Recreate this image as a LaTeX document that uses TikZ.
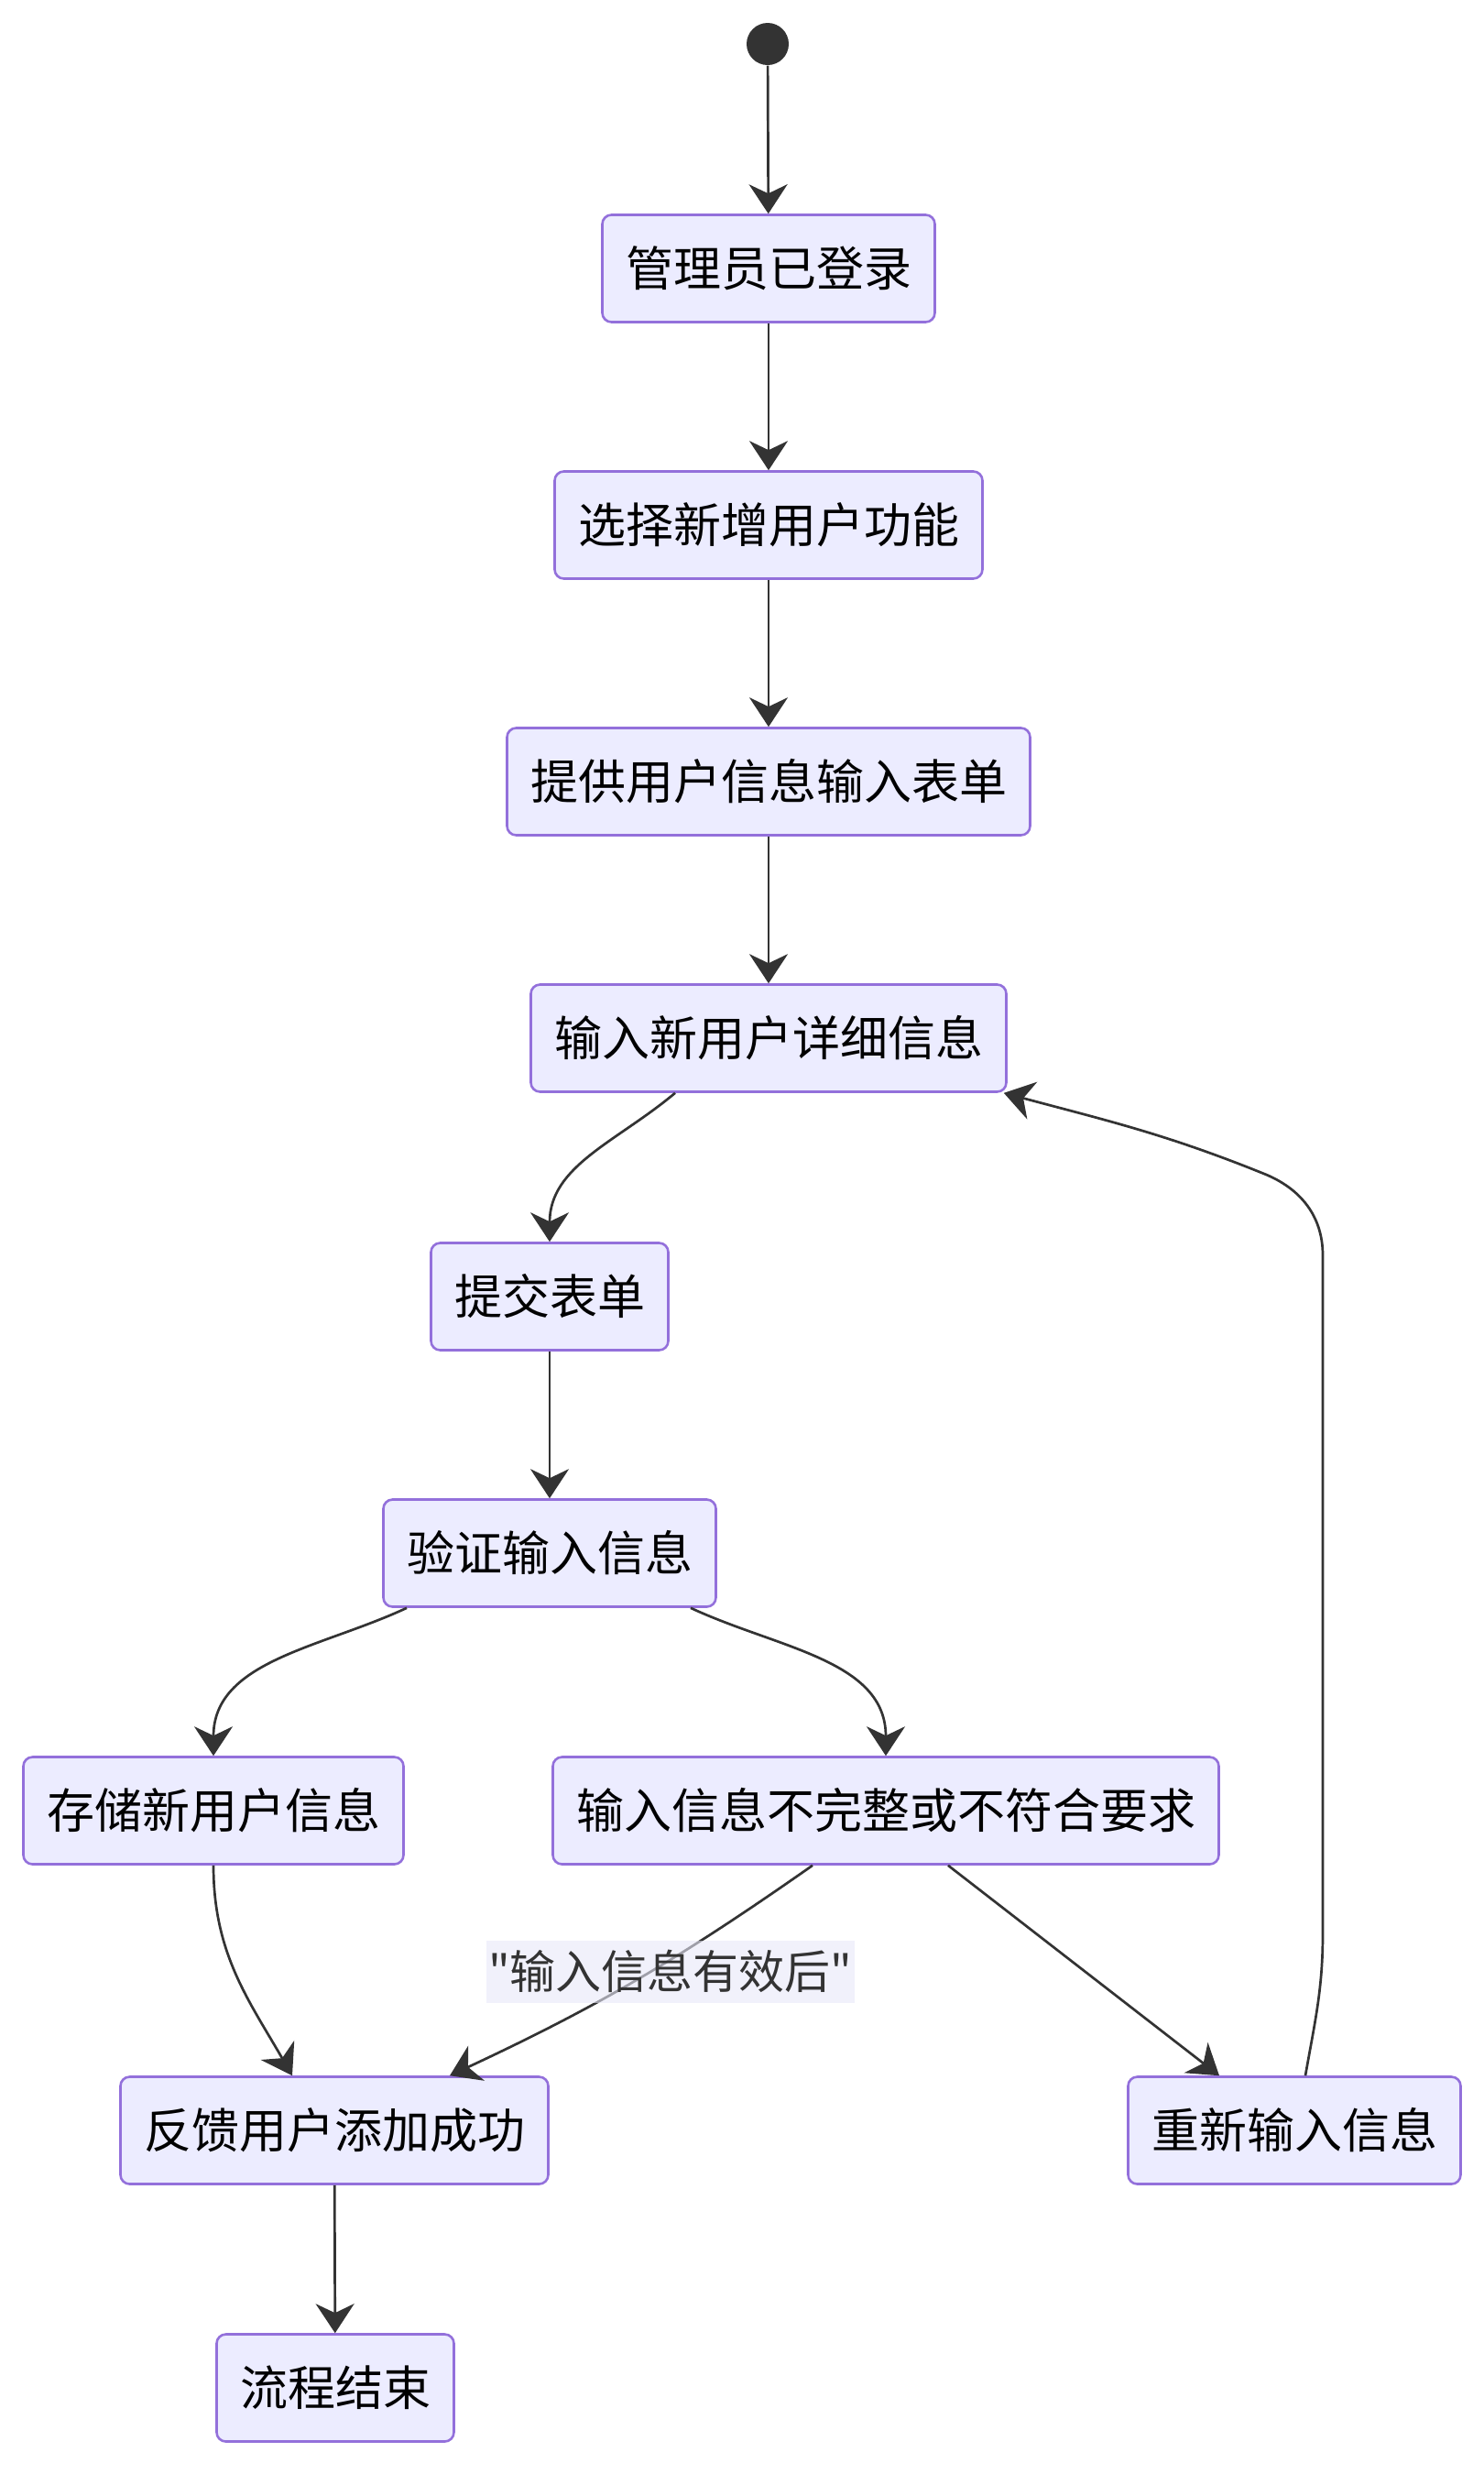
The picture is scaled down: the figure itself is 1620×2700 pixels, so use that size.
\documentclass[tikz,border=0pt]{standalone}
\usepackage{fontspec}
\setmainfont{Noto Sans CJK SC}
\newfontfamily\lblfont{Noto Sans CJK SC}
\usetikzlibrary{arrows.meta,positioning}
\definecolor{boxfill}{HTML}{ECECFF}
\definecolor{boxline}{HTML}{9370DB}
\definecolor{edgeline}{HTML}{333333}
\definecolor{lblfill}{HTML}{E8E8F8}

\begin{document}
\begin{tikzpicture}[x=0.5pt,y=-0.5pt,->,>={Stealth[length=16pt,width=21pt,inset=5pt]},
                    semithick,node distance=140pt,
                    every edge/.style={draw=edgeline,line width=1.35pt}]
  \tikzstyle{every node}=[font=\fontsize{26pt}{30pt}\selectfont]
  \tikzstyle{box}=[rectangle,rounded corners=5pt,fill=boxfill,draw=boxline,line width=1.3pt,
                   minimum height=58.5pt,inner xsep=12.75pt,inner ysep=0pt,text=black]
  \tikzstyle{lbl}=[fill=lblfill,fill opacity=0.6,text opacity=1,text=edgeline,
                   font=\lblfont\fontsize{25pt}{30pt}\selectfont,
                   inner xsep=1pt,inner ysep=0pt,minimum height=34pt]
  \useasboundingbox (0,0) rectangle (1620,2700);

  \node[circle,fill=edgeline,minimum size=23pt,inner sep=0pt] (start) at (838,48) {};
  \node[box] (login)  at (839,293)   {管理员已登录};
  \node[box] (choose) [below of=login]  {选择新增用户功能};
  \node[box] (form)   [below of=choose] {提供用户信息输入表单};
  \node[box] (input)  [below of=form]   {输入新用户详细信息};
  \node[box] (submit) at (600,1415)  {提交表单};
  \node[box] (check)  [below of=submit] {验证输入信息};
  \node[box] (store)  at (233,1976)  {存储新用户信息};
  \node[box] (bad)    at (967,1976)  {输入信息不完整或不符合要求};
  \node[box] (done)   at (365,2325)  {反馈用户添加成功};
  \node[box] (retry)  at (1413,2325) {重新输入信息};
  \node[box] (finish) at (366,2606)  {流程结束};

  \coordinate (upA) at (1444,2110);
  \coordinate (upB) at (1444,1370);
  \coordinate (upC) at (1380,1281);

  \path (start) edge (login)
        (login) edge (choose)
        (choose) edge (form)
        (form) edge (input)
        ([xshift=-51pt]input.south) edge [out=-140,in=90] (submit.north)
        (submit) edge (check)
        ([xshift=-78pt]check.south) edge [out=-155,in=90] (store.north)
        ([xshift=77pt]check.south) edge [out=-25,in=90] (bad.north)
        (store.south) edge [out=-90,in=120] ([xshift=-23pt]done.north)
        ([xshift=-40pt]bad.south) edge [out=-145,in=25]
            node[lbl,pos=0.5,xshift=18.5pt,yshift=4.5pt] {"输入信息有效后"} ([xshift=63pt]done.north)
        ([xshift=34pt]bad.south) edge ([xshift=-41pt]retry.north)
        (done) edge (finish);

  % back to the input form
  \draw[draw=edgeline,line width=1.35pt] ([xshift=6pt]retry.north) to[out=80,in=-90] (upA)
        -- (upB) to[out=90,in=-22] (upC) to[out=158,in=-15] ([xshift=-2pt]input.south east);
\end{tikzpicture}
\end{document}
